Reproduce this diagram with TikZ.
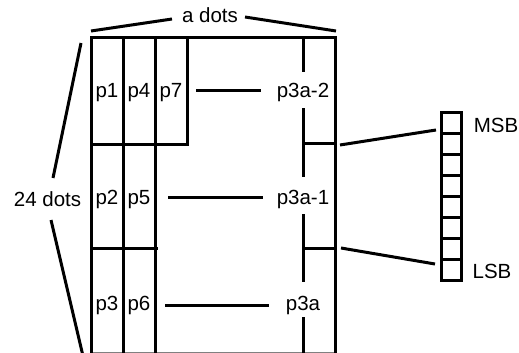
\documentclass[tikz,border=0pt]{standalone}
\usepackage{fontspec}
\setmainfont{Liberation Sans}
\begin{document}
\begin{tikzpicture}[x=1pt,y=-1pt,line width=3pt,
  lbl/.style={font=\fontsize{20.5}{24}\selectfont,inner sep=0pt,anchor=base},
  cell/.style={draw,line width=3pt,minimum width=20pt,minimum height=21pt,inner sep=0pt,anchor=center},
  conn/.style={line width=3pt}]
\useasboundingbox (0,0) rectangle (519,353);
\begin{scope}
\clip (0,0) rectangle (519,353);
% bottom faint edge
\draw[gray,line width=1.5pt] (91,352.5) -- (335,352.5);
% grid
\draw (91,360) -- (91,38) -- (335,38) -- (335,360);
\draw (123,38) -- (123,360);
\draw (155,38) -- (155,360);
\draw (187,38) -- (187,144) -- (91,144);
\draw (91,248) -- (158,248);
\draw (303,38) -- (303,72);
\draw (303,108) -- (303,177);
\draw (303,214) -- (303,282);
\draw (303,317) -- (303,360);
\draw (303,143) -- (335,143);
\draw (303,248) -- (335,248);
\end{scope}
% labels in grid
\node[lbl] (p1) at (107,97) {p1};
\node[lbl] (p4) at (139,97) {p4};
\node[lbl] (p7) at (171,97) {p7};
\node[lbl] (p2) at (107,204) {p2};
\node[lbl] (p5) at (139,204) {p5};
\node[lbl] (p3) at (107,310) {p3};
\node[lbl] (p6) at (139,310) {p6};
\node[lbl] (q2) at (303,97) {p3a-2};
\node[lbl] (q1) at (303,204) {p3a-1};
\node[lbl] (q0) at (303,310) {p3a};
\coordinate (h1a) at (196,90);  \coordinate (h1b) at (261,90);
\coordinate (h2a) at (168,197); \coordinate (h2b) at (263,197);
\coordinate (h3a) at (165,305); \coordinate (h3b) at (269,305);
\draw[conn] (h1a) -- (h1b);
\draw[conn] (h2a) -- (h2b);
\draw[conn] (h3a) -- (h3b);
% a dots
\node[lbl] (adots) at (210,23) {a dots};
\coordinate (a1) at (91,31);   \coordinate (a1e) at (172,19);
\coordinate (a2) at (336,31);  \coordinate (a2e) at (245,17);
\draw[conn] (a1) -- (a1e);
\draw[conn] (a2e) -- (a2);
% 24 dots
\node[lbl] (ndots) at (47.5,206.5) {24 dots};
\coordinate (n1) at (81,43);  \coordinate (n1e) at (53,178);
\coordinate (n2) at (83,356); \coordinate (n2e) at (51,220);
\draw[conn] (n1) -- (n1e);
\draw[conn] (n2e) -- (n2);
% register
\node[cell] (r1) at (451.5,123) {};
\node[cell] (r2) at (451.5,144) {};
\node[cell] (r3) at (451.5,165) {};
\node[cell] (r4) at (451.5,186) {};
\node[cell] (r5) at (451.5,207) {};
\node[cell] (r6) at (451.5,228) {};
\node[cell] (r7) at (451.5,249) {};
\node[cell] (r8) at (451.5,270) {};
\node[lbl] (msb) at (496,132) {MSB};
\node[lbl] (lsb) at (492,278) {LSB};
\coordinate (g1) at (340,145);
\coordinate (g2) at (341,248);
\draw[conn] (g1) -- ([xshift=-4pt,yshift=-7pt]r1.west);
\draw[conn] (g2) -- ([xshift=-5pt,yshift=6pt]r8.west);
\end{tikzpicture}
\end{document}
